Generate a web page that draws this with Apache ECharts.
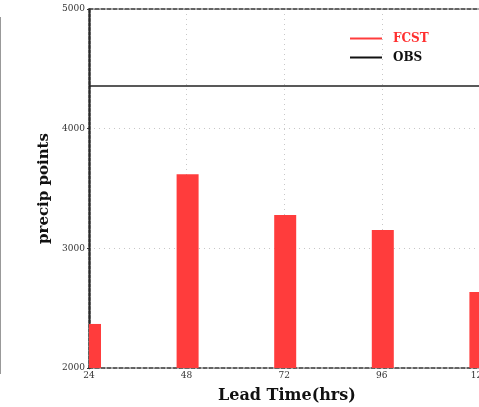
<!DOCTYPE html>
<html>
<head>
<meta charset="utf-8">
<script src="https://cdn.jsdelivr.net/npm/echarts@6/dist/echarts.min.js"></script>
<style>html,body{margin:0;padding:0;background:#fff}#c{width:479px;height:407px}</style>
</head>
<body>
<div id="c"></div>
<script>
var leadTimes = [24, 48, 72, 96, 120];
var fcstValues = [2368, 3620, 3279, 3153, 2635];
var obsValue = 4357;
var yTicks = [2000, 3000, 4000, 5000];
var xTicks = [24, 48, 72, 96, 120, 144];

var chart = echarts.init(document.getElementById('c'), null, {renderer: 'canvas'});
var serif = 'DejaVu Serif';
var yMin = yTicks[0];
function plain(v) { return String(v); }

var option = {
  animation: false,
  backgroundColor: '#fff',
  grid: {left: 89, top: 9, width: 488, height: 359, containLabel: false, outerBoundsMode: 'none'},
  legend: {
    orient: 'vertical', left: 345, top: 27, itemGap: 6,
    itemWidth: 32, itemHeight: 2, icon: 'rect',
    data: [
      {name: 'FCST', textStyle: {color: '#ff3030'}},
      {name: 'OBS', textStyle: {color: '#111'}}
    ],
    textStyle: {fontFamily: serif, fontWeight: 'bold', fontSize: 12, lineHeight: 13, padding: [0, 0, 0, 6]}
  },
  xAxis: [{
    type: 'value', min: xTicks[0], max: xTicks[xTicks.length - 1], interval: 24,
    axisLine: {show: true, onZero: false, lineStyle: {color: '#333', width: 1.5, type: [4, 2]}},
    axisTick: {show: false},
    axisLabel: {fontFamily: serif, fontSize: 9, color: '#333', margin: 3, formatter: plain},
    splitLine: {show: true, lineStyle: {color: '#c8c8c8', type: [1, 4], width: 1}}
  }, {
    type: 'value', position: 'top', min: xTicks[0], max: xTicks[xTicks.length - 1], interval: 24,
    axisLine: {show: true, onZero: false, lineStyle: {color: '#333', width: 1.5, type: [4, 2]}},
    axisTick: {show: false}, axisLabel: {show: false}, splitLine: {show: false}
  }],
  yAxis: {
    type: 'value', min: yTicks[0], max: yTicks[yTicks.length - 1], interval: 1000,
    name: 'precip points', nameLocation: 'middle', nameGap: 31,
    nameTextStyle: {fontFamily: serif, fontWeight: 'bold', fontSize: 15, color: '#111'},
    axisLine: {show: true, onZero: false, lineStyle: {color: '#2a2a2a', width: 2.5, type: [3, 1.5]}},
    axisTick: {show: true, length: 2, lineStyle: {color: '#333'}},
    axisLabel: {fontFamily: serif, fontSize: 9, color: '#333', margin: 4, formatter: plain},
    splitLine: {show: true, lineStyle: {color: '#c8c8c8', type: [1, 4], width: 1}}
  },
  series: [{
    name: 'FCST', type: 'custom', z: 1,
    itemStyle: {color: '#ff3c3c'},
    encode: {x: 0, y: 1},
    data: leadTimes.map(function (t, i) { return [t, fcstValues[i]]; }),
    renderItem: function (params, api) {
      var x = api.value(0), y = api.value(1);
      var top = api.coord([x, y]);
      var base = api.coord([x, yMin]);
      var w = 22;
      var cs = params.coordSys;
      var rect = echarts.graphic.clipRectByRect(
        {x: top[0] - w / 2 + 1, y: top[1], width: w, height: base[1] - top[1]},
        {x: cs.x, y: cs.y, width: cs.width, height: cs.height});
      return rect && {type: 'rect', shape: rect, style: api.style()};
    }
  }, {
    name: 'OBS', type: 'line', symbol: 'none', data: [],
    lineStyle: {color: '#111', width: 1.5}, itemStyle: {color: '#111'},
    markLine: {symbol: 'none', silent: true, label: {show: false},
      lineStyle: {color: '#222', width: 1.5, type: 'solid'},
      data: [{yAxis: obsValue}]}
  }],
  graphic: [
    {type: 'line', shape: {x1: 0.5, y1: 17, x2: 0.5, y2: 374}, style: {stroke: '#999', lineWidth: 1}},
    {type: 'text', left: 218, top: 388, style: {text: 'Lead Time(hrs)', font: 'bold 16px "DejaVu Serif"', fill: '#111'}}
  ]
};
chart.setOption(option);
</script>
</body>
</html>
